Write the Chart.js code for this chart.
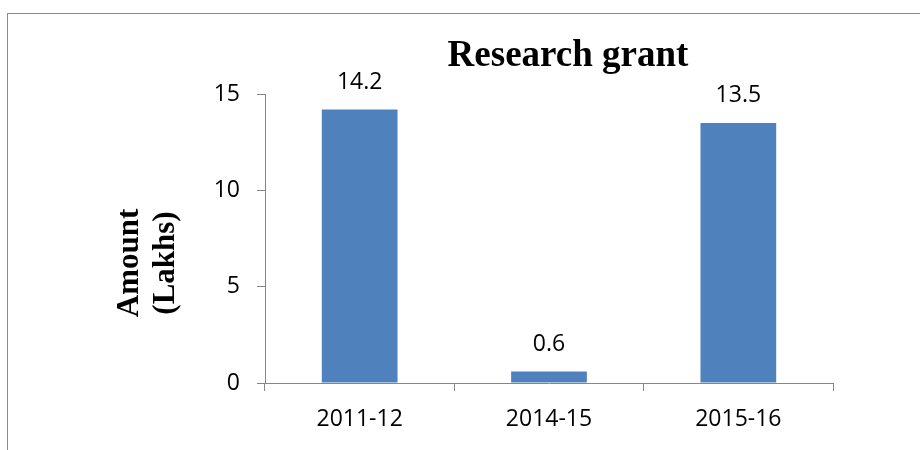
<!DOCTYPE html>
<html>
<head>
<meta charset="utf-8">
<script src="https://cdn.jsdelivr.net/npm/chart.js@4"></script>
<style>
    html, body { margin: 0; padding: 0; background: #fff; overflow: hidden; }
    #frame {
        position: absolute; left: 7px; top: 13px;
        width: 1000px; height: 1000px;
        border: 1px solid #8c8c8c;
    }
    #wrap { position: absolute; left: 0; top: 0; width: 920px; height: 450px; }
</style>
</head>
<body>
<div id="frame"></div>
<div id="wrap"><canvas id="grantChart" width="920" height="450"></canvas></div>
<script>
const years = ["2011-12", "2014-15", "2015-16"];
const amounts = [14.2, 0.6, 13.5];
const yTicks = [0, 5, 10, 15];

const chartTitle = "Research grant";
const yTitle = ["Amount", "(Lakhs)"];

const axisGray = "#868686";
const labelFont = "'Open Sans', sans-serif";

// title, axis title and value labels drawn by hand
const extras = {
    id: "extras",
    afterDatasetsDraw(chart) {
        const ctx = chart.ctx;
        ctx.save();

        ctx.fillStyle = "#000";
        ctx.textAlign = "center";
        ctx.textBaseline = "middle";

        ctx.font = "bold 37px 'Liberation Serif', serif";
        ctx.fillText(chartTitle, 568, 56);

        ctx.font = "23px " + labelFont;
        chart.getDatasetMeta(0).data.forEach((bar, i) => {
            ctx.fillText(amounts[i], bar.x, bar.y - 27);
        });

        ctx.font = "bold 31px 'Liberation Serif', serif";
        ctx.translate(0, 263);
        ctx.rotate(-Math.PI / 2);
        ctx.fillText(yTitle[0], 0, 130);
        ctx.fillText(yTitle[1], 0, 166);

        ctx.restore();
    }
};

new Chart(document.getElementById("grantChart"), {
    type: "bar",
    data: {
        labels: years,
        datasets: [{
            data: amounts,
            backgroundColor: "#4F81BD",
            borderWidth: 0,
            categoryPercentage: 1,
            barPercentage: 0.4
        }]
    },
    options: {
        responsive: false,
        animation: false,
        events: [],
        layout: {
            padding: { left: 0, top: 94, right: 87, bottom: 17 }
        },
        plugins: {
            legend: { display: false },
            tooltip: { enabled: false }
        },
        scales: {
            x: {
                grid: {
                    offset: true,
                    drawOnChartArea: false,
                    tickLength: 8,
                    color: axisGray
                },
                border: { color: axisGray, width: 1 },
                ticks: {
                    color: "#000",
                    padding: 15,
                    font: { family: labelFont, size: 23 }
                },
                afterFit(scale) {
                    scale.height = 50;
                }
            },
            y: {
                min: 0,
                max: 15,
                afterBuildTicks(scale) {
                    scale.ticks = yTicks.map(v => ({ value: v }));
                },
                grid: {
                    drawOnChartArea: false,
                    tickLength: 8,
                    color: axisGray
                },
                border: { color: axisGray, width: 1 },
                ticks: {
                    color: "#000",
                    padding: 17,
                    font: { family: labelFont, size: 23 }
                },
                afterFit(scale) {
                    scale.width = 265;
                }
            }
        }
    },
    plugins: [extras]
});
</script>
</body>
</html>
